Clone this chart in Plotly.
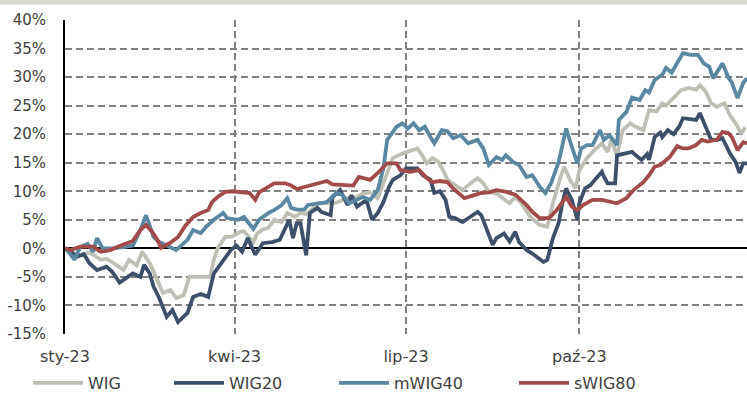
import pandas as pd
import plotly.graph_objects as go

# Days since 2023-01-01 and cumulative return (%)
wig_day = [0,1,4,8,13,19,22,25,31,34,38,41,45,49,52,56,59,63,66,72,77,79,81,85,88,90,93,95,100,102,
           105,108,111,115,118,122,125,128,131,134,139,144,150,155,158,162,166,169,171,174,179,184,187,189,192,195,198,201,203,207,
           211,216,219,222,225,229,232,236,239,242,247,252,256,259,263,265,268,271,273,277,281,285,288,290,293,296,300,303,307,310,
           314,317,319,322,325,327,331,335,337,340,343,346,350,353,356,359,361]
wig_val = [0,-0.3,-0.8,-1.2,-0.7,-2.0,-1.8,-2.4,-3.8,-2.0,-3.0,-0.6,-2.6,-5.5,-7.8,-7.3,-8.7,-8.2,-5.0,-5.0,
           -5.0,-2.0,0.0,2.0,2.0,2.3,2.9,3.0,1.1,2.6,3.3,3.6,5.0,4.6,6.2,5.5,6.2,6.0,6.8,7.9,
           8.0,8.0,8.8,9.0,9.6,9.8,8.8,11.4,13.0,15.8,16.6,17.2,17.5,16.6,14.9,15.8,15.2,13.5,12.0,11.1,
           10.2,11.6,12.3,11.4,9.9,9.6,8.8,7.9,9.0,8.0,5.5,4.1,3.8,7.9,12.5,14.3,12.0,10.5,13.7,15.8,
           17.2,18.4,16.9,19.0,16.3,20.7,21.9,21.3,20.7,24.2,24.0,25.4,25.0,26.0,27.2,27.7,28.1,27.8,28.6,27.5,
           25.4,24.8,25.4,23.3,21.9,20.1,21.2]

wig20_day = [0,3,6,10,13,17,22,25,29,33,36,40,42,45,47,50,54,57,60,65,68,72,76,79,83,88,91,94,97,101,
             105,110,114,117,119,121,123,125,128,130,134,136,141,142,146,150,152,155,160,163,
             166,169,172,174,178,181,184,187,190,194,196,199,202,204,207,211,215,219,221,224,
             227,229,233,236,239,241,245,248,254,256,257,259,262,264,266,269,272,273,276,279,
             282,285,286,288,292,293,297,301,303,306,309,310,313,316,317,320,323,326,328,333,
             335,337,339,343,346,349,353,356,358,360,362]
wig20_val = [0,-0.5,-1.5,-1.0,-2.6,-3.8,-3.2,-4.1,-6.0,-5.0,-4.4,-5.0,-2.9,-4.4,-6.7,-8.7,-12.0,-10.8,-12.9,-11.3,
             -8.5,-8.0,-8.5,-4.4,-2.6,-0.3,0.5,-0.6,1.8,-1.1,0.9,1.1,1.5,3.8,5.0,1.8,4.4,4.4,-1.2,6.2,
             7.1,6.4,5.8,9.0,10.2,7.6,9.3,7.3,8.5,5.0,6.2,8.1,10.8,12.0,12.8,14.0,14.0,14.0,12.8,12.0,
             9.7,10.0,8.5,5.5,5.3,4.6,5.5,6.4,5.8,3.2,0.6,1.8,2.6,1.2,2.9,1.1,-0.3,-0.9,-2.4,-2.0,
             -0.5,1.8,4.4,7.9,10.5,8.5,5.0,7.9,10.5,11.1,12.3,13.4,12.6,11.4,11.4,16.3,16.6,16.9,16.3,15.5,
             16.5,15.5,19.5,20.3,19.5,20.7,20.0,21.3,22.8,22.5,22.5,23.7,22.2,19.0,19.0,19.3,16.6,15.1,13.2,14.9,
             14.9]

mwig40_day = [0,1,4,5,8,12,15,17,20,25,31,36,40,43,47,50,54,59,65,68,72,75,79,84,86,92,95,100,103,108,
              111,115,118,120,123,127,129,134,139,144,147,151,155,158,162,166,169,171,176,179,
              182,185,188,191,194,196,200,203,206,210,214,219,222,225,229,232,234,238,241,245,
              248,252,255,258,262,264,266,269,272,274,277,280,284,286,289,293,294,298,301,305,
              308,310,313,317,319,322,325,328,332,336,339,342,344,346,349,352,354,357,360,362]
mwig40_val = [0,-0.3,-1.5,-2.0,0.2,0.8,-0.6,1.8,0.0,0.0,0.2,0.5,3.2,5.8,2.0,1.1,0.5,-0.3,1.5,3.2,
              2.7,3.8,5.0,6.2,5.3,5.0,5.5,3.4,5.0,6.2,6.7,7.6,8.8,7.1,6.8,6.8,7.6,7.9,8.1,9.7,
              9.4,7.9,8.5,9.0,8.5,10.2,14.0,19.0,21.3,21.9,21.0,21.9,20.7,21.3,19.5,18.4,20.7,20.5,19.3,19.8,
              18.4,19.0,17.5,14.6,16.0,15.5,16.3,15.1,14.6,12.5,12.8,10.8,9.7,11.4,15.1,18.4,21.0,17.8,14.9,17.5,
              18.1,18.1,20.7,19.0,19.8,18.1,22.5,23.9,26.4,26.0,27.7,27.3,29.5,30.4,31.6,30.8,32.4,34.2,33.9,33.9,
              32.4,31.8,29.8,30.9,32.4,30.0,29.0,26.3,29.0,29.8]

swig80_day = [0,3,8,15,19,24,29,36,40,43,46,49,51,56,60,64,68,72,76,78,81,85,89,94,98,101,103,107,111,117,
              120,123,128,134,139,142,147,153,156,162,166,171,176,178,183,188,192,195,199,203,
              206,210,212,216,221,225,229,233,239,241,245,248,252,257,261,266,269,272,275,280,
              285,293,298,302,307,310,313,316,318,321,325,328,331,335,338,341,346,349,352,354,357,360,362]
swig80_val = [0,-0.3,0.3,0.3,-0.6,-0.3,0.4,1.3,3.2,4.1,3.0,1.5,0.1,1.0,2.0,4.0,5.5,6.2,6.7,8.1,
              9.0,9.9,10.0,9.9,9.7,8.5,9.8,10.6,11.4,11.4,11.0,10.4,10.8,11.4,11.8,11.2,11.1,11.0,12.5,12.0,
              13.2,14.9,14.9,13.7,13.4,13.7,12.3,11.6,11.8,11.6,10.5,9.3,8.8,9.2,9.7,9.8,10.2,10.0,9.4,8.8,
              7.6,6.4,5.3,5.3,6.7,9.0,7.3,6.7,7.6,8.5,8.5,7.9,8.8,10.3,11.6,12.8,14.3,14.6,15.1,16.0,
              17.9,17.5,17.5,18.1,19.0,18.7,19.0,20.4,20.2,19.5,17.2,18.6,18.4]

series_names = ["WIG", "WIG20", "mWIG40", "sWIG80"]
series_colors = ["#bfc0b5", "#3e4f69", "#5b87a1", "#a14b4b"]

x_tick_dates = ["2023-01-01", "2023-04-01", "2023-07-01", "2023-10-01"]
x_tick_labels = ["sty-23", "kwi-23", "lip-23", "paź-23"]
y_tick_vals = [-15, -10, -5, 0, 5, 10, 15, 20, 25, 30, 35, 40]
y_tick_labels = ["-15%", "-10%", "-5%", "0%", "5%", "10%", "15%", "20%", "25%", "30%", "35%", "40%"]

start = pd.Timestamp("2023-01-01")
def to_dates(days):
    return start + pd.to_timedelta(days, unit="D")

data = [(wig_day, wig_val), (wig20_day, wig20_val), (mwig40_day, mwig40_val), (swig80_day, swig80_val)]
legend_ids = ["legend", "legend2", "legend3", "legend4"]
legend_x = [28 / 747, 169 / 747, 334 / 747, 514 / 747]

FONT = "DejaVu Sans"
TXT = "#404040"

fig = go.Figure()
for (d, v), name, col, lid in zip(data, series_names, series_colors, legend_ids):
    fig.add_trace(go.Scatter(x=to_dates(d), y=v, mode="lines", name=name,
                             line=dict(color=col, width=3.8), legend=lid))

legend_common = dict(orientation="h", yref="container", xref="container",
                     yanchor="middle", y=1 - 383 / 401, xanchor="left",
                     bgcolor="rgba(0,0,0,0)", font=dict(family=FONT, size=16, color=TXT),
                     itemwidth=50)
layout_legends = {}
for lid, lx in zip(legend_ids, legend_x):
    layout_legends[lid] = dict(x=lx, **legend_common)

fig.update_layout(
    width=747, height=401,
    margin=dict(l=65, r=0, t=20, b=67, autoexpand=False),
    paper_bgcolor="white", plot_bgcolor="white",
    font=dict(family=FONT, size=15, color=TXT),
    showlegend=True,
    **layout_legends,
)
fig.update_xaxes(
    type="date", range=["2023-01-01", "2023-12-29"],
    tickvals=x_tick_dates, ticktext=x_tick_labels,
    showgrid=True, gridcolor="#808080", gridwidth=1.5, griddash="7px,4px",
    ticks="outside", ticklen=8, tickcolor="rgba(0,0,0,0)",
    showline=False, zeroline=False, automargin=False,
    tickfont=dict(family=FONT, size=16, color=TXT),
)
fig.update_yaxes(
    range=[-15, 40], tickvals=y_tick_vals, ticktext=y_tick_labels,
    showgrid=True, gridcolor="#808080", gridwidth=1.5, griddash="7px,4px",
    zeroline=True, zerolinecolor="black", zerolinewidth=1.5,
    showline=True, linecolor="black", linewidth=2,
    ticks="outside", ticklen=14, tickcolor="rgba(0,0,0,0)", automargin=False,
    tickfont=dict(family=FONT, size=15, color=TXT),
)
# thin grey band at the very top of the figure
fig.add_shape(type="rect", xref="paper", yref="paper", x0=-0.2, x1=1.05,
              y0=1 + 15.5 / 314, y1=1 + 22 / 314, fillcolor="#d9d9d4", line_width=0, layer="above")

fig.write_html("out.html", post_script="document.body.style.margin='0';",
               config={"displayModeBar": False})
